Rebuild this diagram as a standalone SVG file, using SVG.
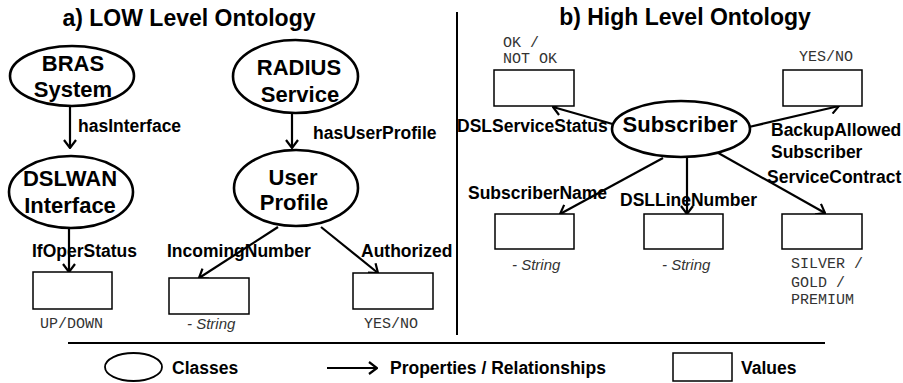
<svg xmlns="http://www.w3.org/2000/svg" width="903" height="383" viewBox="0 0 903 383">
<style>
.title{font-family:"Liberation Sans",Arial,sans-serif;font-weight:bold;font-size:23px;fill:#000;text-anchor:middle}
.cls{fill:#fff;stroke:#000;stroke-width:2.6}
.clst{font-family:"Liberation Sans",Arial,sans-serif;font-weight:bold;font-size:22px;fill:#000;text-anchor:middle}
.prop{font-family:"Liberation Sans",Arial,sans-serif;font-weight:bold;font-size:17.5px;fill:#000}
.val{fill:#fff;stroke:#000;stroke-width:1.5}
.mono{font-family:"Liberation Mono","Courier New",monospace;font-size:15px;fill:#333}
.str{font-family:"Liberation Sans",Arial,sans-serif;font-style:italic;font-size:15px;fill:#333}
.edge{stroke:#000;stroke-width:2.2;fill:none;marker-end:url(#arr)}
.rule{stroke:#000;stroke-width:2;fill:none}
</style>
<defs>
<marker id="arr" viewBox="0 0 10 14" refX="9" refY="7" markerWidth="10" markerHeight="14" markerUnits="userSpaceOnUse" orient="auto">
<path d="M1,1 L9,7 L1,13" fill="none" stroke="#000" stroke-width="2.2"/>
</marker>
</defs>
<rect width="903" height="383" fill="#fff"/>
<text class="title" x="189" y="26">a) LOW Level Ontology</text>
<text class="title" x="685" y="25">b) High Level Ontology</text>
<g id="rules">
<line class="rule" x1="457" y1="12" x2="457" y2="335"/>
<line class="rule" x1="68" y1="343" x2="825" y2="343"/>
</g>
<g id="connectors">
<line class="edge" x1="70" y1="106" x2="70" y2="148"/>
<line class="edge" x1="292" y1="113" x2="292" y2="148"/>
<line class="edge" x1="69" y1="228" x2="69" y2="272"/>
<line class="edge" x1="278" y1="227" x2="199" y2="278"/>
<line class="edge" x1="321" y1="227" x2="378" y2="273"/>
<line class="edge" x1="623" y1="127" x2="553" y2="107"/>
<line class="edge" x1="749" y1="127" x2="839" y2="106"/>
<line class="edge" x1="663" y1="158" x2="560" y2="214"/>
<line class="edge" x1="687" y1="157" x2="687" y2="214"/>
<line class="edge" x1="713" y1="150" x2="825" y2="213"/>
<line class="edge" x1="327" y1="368" x2="377" y2="368"/>
</g>
<g id="labels">
<text class="prop" x="78" y="132">hasInterface</text>
<text class="prop" x="313" y="139">hasUserProfile</text>
<text class="prop" x="32" y="257">IfOperStatus</text>
<text class="prop" x="167" y="257">IncomingNumber</text>
<text class="prop" x="361" y="257">Authorized</text>
<text class="prop" x="457" y="132">DSLServiceStatus</text>
<text class="prop" x="771" y="136">BackupAllowed</text>
<text class="prop" x="771" y="158">Subscriber</text>
<text class="prop" x="468" y="199">SubscriberName</text>
<text class="prop" x="620" y="206">DSLLineNumber</text>
<text class="prop" x="767" y="183">ServiceContract</text>
</g>
<g id="bras">
<ellipse class="cls" cx="72" cy="76" rx="62" ry="30"/>
<text class="clst" x="73" y="71">BRAS</text>
<text class="clst" x="73" y="97">System</text>
</g>
<g id="dslwan">
<ellipse class="cls" cx="71" cy="192" rx="62" ry="36"/>
<text class="clst" x="70" y="186">DSLWAN</text>
<text class="clst" x="70" y="213">Interface</text>
</g>
<g id="radius">
<ellipse class="cls" cx="295.5" cy="76.5" rx="62.5" ry="36.5"/>
<text class="clst" x="299" y="75">RADIUS</text>
<text class="clst" x="300" y="102">Service</text>
</g>
<g id="userprofile">
<ellipse class="cls" cx="296" cy="188" rx="62" ry="38"/>
<text class="clst" x="293" y="185">User</text>
<text class="clst" x="294" y="210">Profile</text>
</g>
<g id="subscriber">
<ellipse class="cls" cx="681" cy="129" rx="69" ry="28"/>
<text class="clst" x="680" y="132">Subscriber</text>
</g>
<g id="v-ifoper">
<rect class="val" x="33" y="272" width="79" height="37"/>
<text class="mono" x="40" y="328">UP/DOWN</text>
</g>
<g id="v-incoming">
<rect class="val" x="169" y="278" width="80" height="36"/>
<text class="str" x="187" y="329">- String</text>
</g>
<g id="v-authorized">
<rect class="val" x="353" y="273" width="80" height="36"/>
<text class="mono" x="364" y="328">YES/NO</text>
</g>
<g id="v-dslstatus">
<rect class="val" x="494" y="70" width="80" height="36"/>
<text class="mono" x="503" y="47">OK /</text>
<text class="mono" x="503" y="63">NOT OK</text>
</g>
<g id="v-backup">
<rect class="val" x="783" y="70" width="79" height="36"/>
<text class="mono" x="799" y="61">YES/NO</text>
</g>
<g id="v-subname">
<rect class="val" x="495" y="214" width="79" height="35"/>
<text class="str" x="512" y="270">- String</text>
</g>
<g id="v-dslline">
<rect class="val" x="644" y="214" width="79" height="35"/>
<text class="str" x="662" y="270">- String</text>
</g>
<g id="v-contract">
<rect class="val" x="782" y="214" width="80" height="35"/>
<text class="mono" x="791" y="268">SILVER /</text>
<text class="mono" x="791" y="287">GOLD /</text>
<text class="mono" x="791" y="304">PREMIUM</text>
</g>
<g id="legend">
<ellipse cx="133.5" cy="367" rx="28.5" ry="14" fill="#fff" stroke="#000" stroke-width="1.8"/>
<text class="prop" x="172" y="374">Classes</text>
<text class="prop" x="390" y="374">Properties / Relationships</text>
<rect class="val" x="673" y="353" width="59" height="28"/>
<text class="prop" x="741" y="374">Values</text>
</g>
</svg>
